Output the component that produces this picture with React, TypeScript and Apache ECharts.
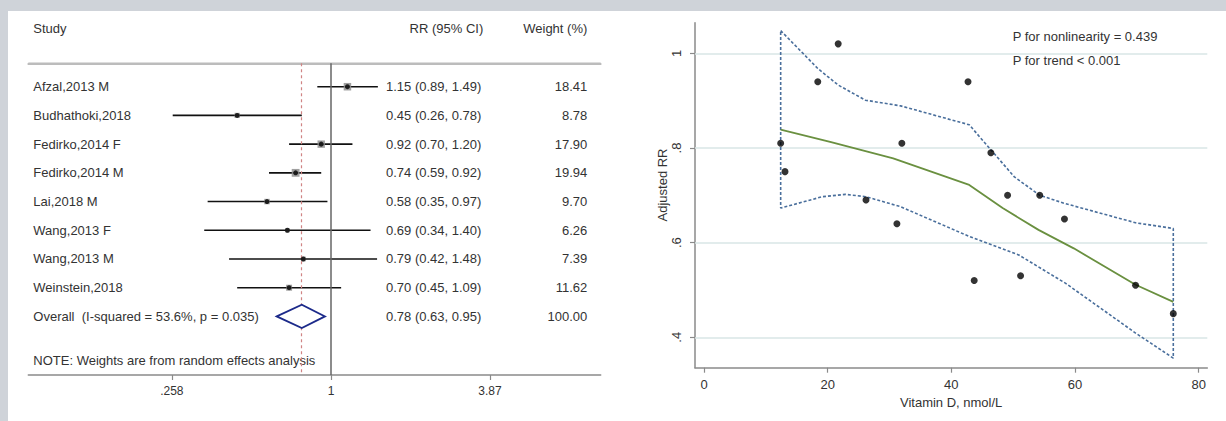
import React, { useEffect, useRef } from "react";
import * as echarts from "echarts";

// ---------- Forest plot data ----------
const studies = [
  "Afzal,2013 M",
  "Budhathoki,2018",
  "Fedirko,2014 F",
  "Fedirko,2014 M",
  "Lai,2018 M",
  "Wang,2013 F",
  "Wang,2013 M",
  "Weinstein,2018",
];
const rrEst = [1.15, 0.45, 0.92, 0.74, 0.58, 0.69, 0.79, 0.7];
const rrLow = [0.89, 0.26, 0.7, 0.59, 0.35, 0.34, 0.42, 0.45];
const rrHigh = [1.49, 0.78, 1.2, 0.92, 0.97, 1.4, 1.48, 1.09];
const weights = [18.41, 8.78, 17.9, 19.94, 9.7, 6.26, 7.39, 11.62];
const overallLabel = "Overall  (I-squared = 53.6%, p = 0.035)";
const overallRR = [0.78, 0.63, 0.95]; // estimate, low, high
const overallWeight = 100.0;
const noteText = "NOTE: Weights are from random effects analysis";
const forestTicks = [0.258, 1, 3.87];

// ---------- Dose-response data ----------
const vitD = [12.4, 13.1, 18.4, 21.7, 26.2, 31.2, 32.0, 42.7, 43.7, 46.4, 49.1, 51.2, 54.3, 58.3, 69.8, 75.9];
const adjRR = [0.81, 0.75, 0.94, 1.02, 0.69, 0.64, 0.81, 0.94, 0.52, 0.79, 0.7, 0.53, 0.7, 0.65, 0.51, 0.45];
const fitX = [12.4, 20.4, 30.6, 42.9, 48.3, 54.1, 59.8, 69.8, 75.9];
const fitY = [0.839, 0.813, 0.778, 0.722, 0.673, 0.627, 0.588, 0.511, 0.475];
const upperX = [12.4, 18.4, 21.7, 26.1, 31.8, 42.9, 46.4, 50.2, 54.3, 58.3, 69.8, 75.9];
const upperY = [1.048, 0.968, 0.933, 0.901, 0.889, 0.849, 0.796, 0.739, 0.7, 0.683, 0.642, 0.63];
const lowerX = [12.4, 19.1, 22.9, 26.2, 31.8, 42.9, 50.9, 58.5, 69.8, 75.9];
const lowerY = [0.673, 0.697, 0.702, 0.697, 0.676, 0.613, 0.574, 0.514, 0.409, 0.356];
const xTicks = [0, 20, 40, 60, 80];
const yTicks = [0.4, 0.6, 0.8, 1];
const pNonlin = "P for nonlinearity = 0.439";
const pTrend = "P for trend < 0.001";

const FONT = "'Liberation Sans', Arial, sans-serif";
const TXT = "#333";

// layout of forest panel
const FL = 28.3, FR = 600.7, FT = 63.3, FB = 375;
const ROW_MIN = -0.815, ROW_MAX = 10.04;
const LN_MIN = -2.576, LN_MAX = 2.295;
const rowY = (r: number) => FT + ((r - ROW_MIN) / (ROW_MAX - ROW_MIN)) * (FB - FT);

// layout of right panel
const RL = 695, RR = 1207.3, RT = 22.7, RB = 367.7;

export default function App() {
  const ref = useRef<HTMLDivElement>(null);
  useEffect(() => {
    document.body.style.margin = "0";
    const chart = echarts.init(ref.current!, null, { renderer: "svg" });

    const ciData = studies.map((_, i) => [Math.log(rrLow[i]), Math.log(rrHigh[i]), i]);
    const boxData = studies.map((_, i) => ({
      value: [Math.log(rrEst[i]), i],
      symbolSize: 1.75 * Math.sqrt(weights[i]),
    }));
    const ptData = studies.map((_, i) => [Math.log(rrEst[i]), i]);
    const ovRow = studies.length;

    const fmt2 = (v: number) => v.toFixed(2);
    const texts: any[] = [];
    const tstyle = (text: string, align: string, size = 13) => ({
      text,
      fill: TXT,
      font: `${size}px ${FONT}`,
      align,
      verticalAlign: "middle",
    });
    texts.push({ type: "text", x: 33.3, y: 28.3, style: tstyle("Study", "left") });
    texts.push({ type: "text", x: 483.3, y: 28.3, style: tstyle("RR (95% CI)", "right") });
    texts.push({ type: "text", x: 587.3, y: 28.3, style: tstyle("Weight (%)", "right") });
    studies.forEach((s, i) => {
      const y = rowY(i);
      texts.push({ type: "text", x: 33.3, y, style: tstyle(s, "left") });
      texts.push({
        type: "text",
        x: 386,
        y,
        style: tstyle(`${fmt2(rrEst[i])} (${fmt2(rrLow[i])}, ${fmt2(rrHigh[i])})`, "left"),
      });
      texts.push({ type: "text", x: 587.3, y, style: tstyle(fmt2(weights[i]), "right") });
    });
    const oy = rowY(ovRow);
    texts.push({ type: "text", x: 33.3, y: oy, style: tstyle(overallLabel, "left") });
    texts.push({
      type: "text",
      x: 386,
      y: oy,
      style: tstyle(`${fmt2(overallRR[0])} (${fmt2(overallRR[1])}, ${fmt2(overallRR[2])})`, "left"),
    });
    texts.push({ type: "text", x: 587.3, y: oy, style: tstyle(fmt2(overallWeight), "right") });
    texts.push({ type: "text", x: 33.3, y: rowY(9.52), style: tstyle(noteText, "left") });

    // right panel texts
    texts.push({ type: "text", x: 1012.7, y: 36.7, style: tstyle(pNonlin, "left") });
    texts.push({ type: "text", x: 1012.7, y: 60, style: tstyle(pTrend, "left") });
    texts.push({
      type: "text",
      x: 662.5,
      y: 185,
      rotation: Math.PI / 2,
      style: tstyle("Adjusted RR", "center"),
    });

    const polyData: number[][] = [];
    upperX.forEach((x, i) => polyData.push([x, upperY[i]]));
    for (let i = lowerX.length - 1; i >= 0; i--) polyData.push([lowerX[i], lowerY[i]]);
    polyData.push([upperX[0], upperY[0]]);

    const option: any = {
      animation: false,
      backgroundColor: "#cfd3d9",
      textStyle: { fontFamily: FONT },
      graphic: [
        { type: "rect", shape: { x: 8, y: 11, width: 1226, height: 421 }, style: { fill: "#fff" }, z: -10 },
        ...texts,
      ],
      grid: [
        { left: FL, top: FT, width: FR - FL, height: FB - FT },
        { left: RL, top: RT, width: RR - RL, height: RB - RT },
        { left: FL, top: FT - 2, width: FR - FL, height: 2 },
      ],
      xAxis: [
        {
          gridIndex: 0,
          type: "value",
          min: LN_MIN,
          max: LN_MAX,
          position: "bottom",
          axisLine: { show: true, onZero: false, lineStyle: { color: "#8a8a8a", width: 1.5 } },
          axisTick: {
            show: true,
            length: 5,
            customValues: forestTicks.map((t) => Math.log(t)),
            lineStyle: { color: "#8a8a8a", width: 1.2 },
          },
          axisLabel: {
            customValues: forestTicks.map((t) => Math.log(t)),
            margin: 10,
            color: TXT,
            fontSize: 12,
            fontFamily: FONT,
            formatter: (v: number) => {
              const r = Math.round(Math.exp(v) * 1000) / 1000;
              const s = String(r);
              return s.startsWith("0.") ? s.slice(1) : s;
            },
          },
          splitLine: { show: false },
        },
        {
          gridIndex: 1,
          type: "value",
          min: -1.456,
          max: 81.4,
          name: "Vitamin D, nmol/L",
          nameLocation: "middle",
          nameGap: 28,
          nameTextStyle: { color: TXT, fontSize: 13, fontFamily: FONT },
          axisLine: { show: true, onZero: false, lineStyle: { color: "#8a8a8a", width: 1.5 } },
          axisTick: { show: true, length: 5, customValues: xTicks, lineStyle: { color: "#8a8a8a", width: 1.2 } },
          axisLabel: { customValues: xTicks, margin: 10, color: TXT, fontSize: 13, fontFamily: FONT },
          splitLine: { show: false },
        },
        {
          gridIndex: 2,
          type: "value",
          min: LN_MIN,
          max: LN_MAX,
          position: "bottom",
          axisLine: { show: true, onZero: false, lineStyle: { color: "#bcbcbc", width: 1.8 } },
          axisTick: { show: false },
          axisLabel: { show: false },
          splitLine: { show: false },
        },
      ],
      yAxis: [
        {
          gridIndex: 0,
          type: "value",
          inverse: true,
          min: ROW_MIN,
          max: ROW_MAX,
          show: false,
        },
        {
          gridIndex: 1,
          type: "value",
          min: 0.3358,
          max: 1.0647,
          axisLine: { show: true, onZero: false, lineStyle: { color: "#8a8a8a", width: 1.5 } },
          axisTick: { show: true, length: 5, customValues: yTicks, lineStyle: { color: "#8a8a8a", width: 1.2 } },
          axisLabel: {
            customValues: yTicks,
            rotate: 90,
            margin: 12,
            color: TXT,
            fontSize: 13,
            fontFamily: FONT,
            formatter: (v: number) => {
              const s = String(Math.round(v * 10) / 10);
              return s.startsWith("0.") ? s.slice(1) : s;
            },
          },
          splitLine: { show: false },
        },
        {
          gridIndex: 2,
          type: "value",
          min: 0,
          max: 1,
          show: false,
        },
      ],
      series: [
        {
          type: "line",
          xAxisIndex: 2,
          yAxisIndex: 2,
          data: [
            [LN_MIN, 0],
            [LN_MAX, 0],
          ],
          showSymbol: false,
          symbol: "none",
          clip: false,
          lineStyle: { color: "#bcbcbc", width: 1.8 },
          z: 2,
        },
        {
          type: "custom",
          xAxisIndex: 0,
          yAxisIndex: 0,
          data: ciData,
          renderItem: (params: any, api: any) => {
            const a = api.coord([api.value(0), api.value(2)]);
            const b = api.coord([api.value(1), api.value(2)]);
            return {
              type: "line",
              shape: { x1: a[0], y1: a[1], x2: b[0], y2: b[1] },
              style: { stroke: "#111", lineWidth: 1.6 },
            };
          },
          z: 3,
        },
        {
          type: "scatter",
          xAxisIndex: 0,
          yAxisIndex: 0,
          symbol: "rect",
          data: boxData,
          itemStyle: { color: "#8f8f8f", opacity: 0.85 },
          z: 4,
        },
        {
          type: "scatter",
          xAxisIndex: 0,
          yAxisIndex: 0,
          symbol: "circle",
          symbolSize: 5,
          data: ptData,
          itemStyle: { color: "#000" },
          z: 5,
          markLine: {
            silent: true,
            symbol: "none",
            label: { show: false },
            data: [
              { xAxis: 0, lineStyle: { color: "#666", width: 1.5, type: "solid" } },
              { xAxis: Math.log(overallRR[0]), lineStyle: { color: "#d08484", width: 1.2, type: [3, 3] } },
            ],
          },
        },
        {
          type: "custom",
          xAxisIndex: 0,
          yAxisIndex: 0,
          data: [[Math.log(overallRR[1]), Math.log(overallRR[0]), Math.log(overallRR[2]), ovRow]],
          renderItem: (params: any, api: any) => {
            const r = api.value(3);
            const p1 = api.coord([api.value(0), r]);
            const p2 = api.coord([api.value(1), r - 0.407]);
            const p3 = api.coord([api.value(2), r]);
            const p4 = api.coord([api.value(1), r + 0.407]);
            return {
              type: "polygon",
              shape: { points: [p1, p2, p3, p4] },
              style: { fill: "#fff", stroke: "#1c2a8a", lineWidth: 1.8 },
            };
          },
          z: 6,
        },
        // right panel
        {
          type: "line",
          xAxisIndex: 1,
          yAxisIndex: 1,
          data: polyData,
          showSymbol: false,
          symbol: "none",
          lineStyle: { color: "#4a6f9c", width: 1.6, type: [3, 2] },
          z: 3,
          markLine: {
            silent: true,
            symbol: "none",
            label: { show: false },
            lineStyle: { color: "#d8e6e6", width: 1.5, type: "solid" },
            data: yTicks.map((v) => ({ yAxis: v })),
            z: 1,
          },
        },
        {
          type: "line",
          xAxisIndex: 1,
          yAxisIndex: 1,
          data: fitX.map((x, i) => [x, fitY[i]]),
          showSymbol: false,
          symbol: "none",
          lineStyle: { color: "#6a9040", width: 1.8 },
          z: 4,
        },
        {
          type: "scatter",
          xAxisIndex: 1,
          yAxisIndex: 1,
          data: vitD.map((x, i) => [x, adjRR[i]]),
          symbol: "circle",
          symbolSize: 7,
          itemStyle: { color: "#000" },
          z: 5,
        },
      ],
    };
    chart.setOption(option);
    return () => chart.dispose();
  }, []);
  return <div ref={ref} style={{ width: 1226, height: 421 }} />;
}
